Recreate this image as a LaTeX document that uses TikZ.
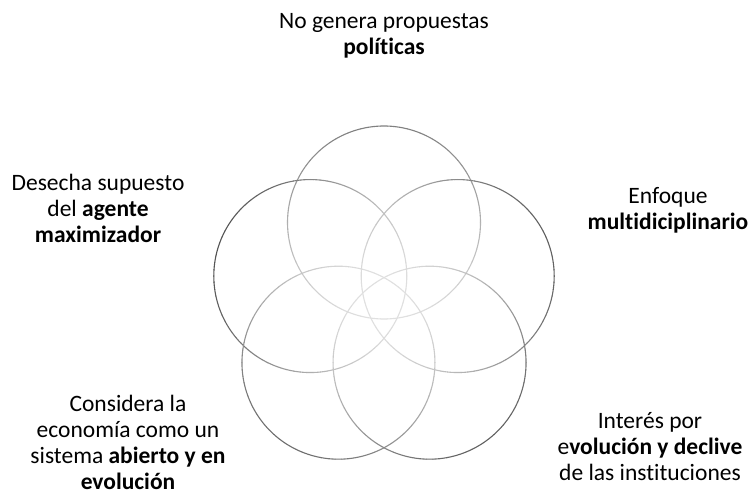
\documentclass[tikz,border=0pt]{standalone}
\usepackage{fontspec}
\setmainfont{Carlito}[Ligatures=NoCommon]
\usetikzlibrary{calc}
\begin{document}
\begin{tikzpicture}[x=1pt,y=1pt,
  lbl/.style={align=center, inner sep=0pt, anchor=base, font=\fontsize{23.5}{26}\selectfont}]
\fill[white] (0,0) rectangle (753,-497);
\useasboundingbox (0,0) rectangle (753,-497);
\coordinate (P) at (384,-300);
\foreach \k/\th/\dk in {a/90/38, b/162/55, c/18/50, d/234/45, e/306/50} {
  \coordinate (C\k) at ($(P)+(\th:77.5)$);
  \foreach \a in {0,4,...,356} {
    \pgfmathsetmacro\p{12+\dk*(1+cos(\a-\th))/2}
    \draw[line width=1.1pt, black!\p, line cap=round] (C\k) ++(\a:96.5) arc[start angle=\a, end angle=\a+4, radius=96.5];
  }
}
% anchor=base refers to the baseline of the last line
\node[lbl] (top) at (384,-55) {No genera propuestas\\\textbf{políticas}};
\node[lbl] (tl) at (98,-243) {Desecha supuesto\\del \textbf{agente}\\\textbf{maximizador}};
\node[lbl] (tr) at (668,-230) {Enfoque\\\textbf{multidiciplinario}};
\node[lbl] (bl) at (128,-489) {Considera la\\economía como un\\sistema \textbf{abierto y en}\\\textbf{evolución}};
\node[lbl] (br) at (650,-480) {Interés por\\e\textbf{volución y declive}\\de las instituciones};
\end{tikzpicture}
\end{document}
